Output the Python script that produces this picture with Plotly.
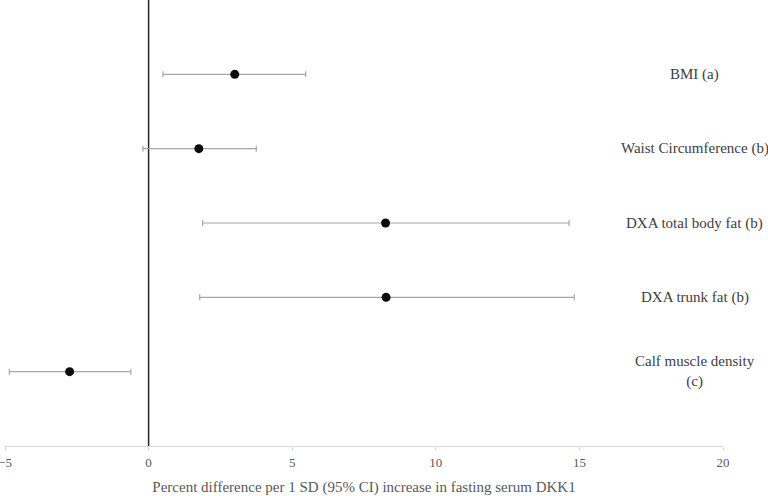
import plotly.graph_objects as go

# Данные: оценка и 95% ДИ
labels = ["BMI (a)", "Waist Circumference (b)", "DXA total body fat (b)",
          "DXA trunk fat (b)", "Calf muscle density<br>(c)"]
est = [3.0, 1.75, 8.25, 8.27, -2.75]
lower = [0.5, -0.2, 1.88, 1.78, -4.85]
upper = [5.47, 3.75, 14.64, 14.82, -0.62]
rows = [1, 2, 3, 4, 5]
xticks = [-5, 0, 5, 10, 15, 20]

font = "Liberation Serif, Times New Roman, serif"

fig = go.Figure()

# вертикальная линия в нуле
fig.add_trace(go.Scatter(x=[0, 0], y=[0, 6], mode="lines",
                         line=dict(color="#262626", width=1.5),
                         hoverinfo="skip", showlegend=False))

fig.add_trace(go.Scatter(
    x=est, y=rows, mode="markers",
    marker=dict(color="#0d0d0d", size=9),
    error_x=dict(type="data", symmetric=False,
                 array=[u - e for u, e in zip(upper, est)],
                 arrayminus=[e - l for e, l in zip(est, lower)],
                 color="#a6a6a6", thickness=1.2, width=3),
    showlegend=False))

for lab, r in zip(labels, rows):
    fig.add_annotation(x=19.02, y=r, xref="x", yref="y", text=lab,
                       showarrow=False, xanchor="center", yanchor="middle",
                       font=dict(family=font, size=15, color="#404040"))

fig.update_layout(
    width=768, height=496,
    margin=dict(l=5, r=45, t=0, b=50, autoexpand=False),
    plot_bgcolor="white", paper_bgcolor="white",
    font=dict(family=font, size=13, color="#595959"),
)
fig.update_xaxes(range=[-5, 20], tickvals=xticks, showgrid=False,
                 zeroline=False, showline=True, linecolor="#d9d9d9",
                 linewidth=1, ticks="outside", ticklen=4, tickcolor="#d9d9d9",
                 automargin=False, ticklabeloverflow="allow",
                 title=dict(text="Percent difference per 1 SD (95% CI) increase in fasting serum DKK1",
                            font=dict(size=15, color="#595959"), standoff=13))
fig.update_yaxes(range=[6, 0], showgrid=False, zeroline=False,
                 showticklabels=False, showline=False, automargin=False)

# убрать отступ body, чтобы график начинался с (0, 0)
fig.write_html("out.html", config={"displayModeBar": False},
               post_script="document.body.style.margin='0';")
